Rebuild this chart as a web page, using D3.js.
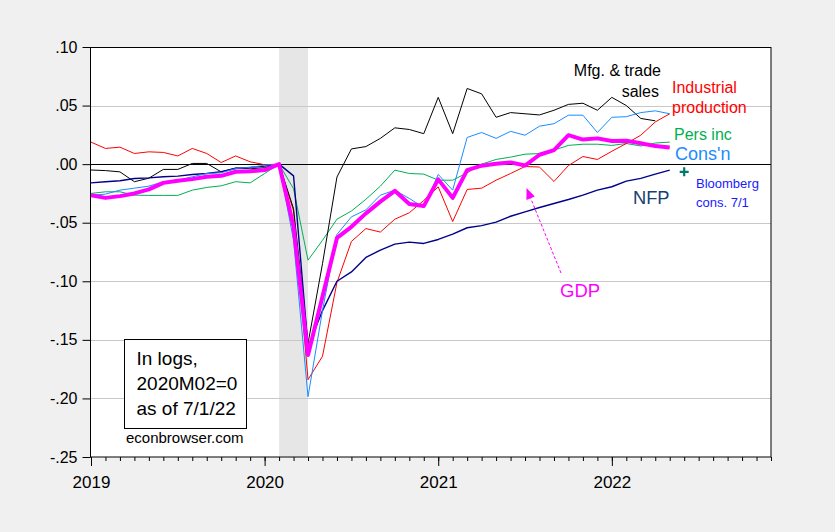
<!DOCTYPE html>
<html>
<head>
<meta charset="utf-8">
<script src="https://cdn.jsdelivr.net/npm/d3@7"></script>
<style>
	body { margin: 0; background: #f0f0f0; }
	#c-svg { width: 835px; height: 532px; }
	text { font-family: "Liberation Sans", Arial, sans-serif; }
</style>
</head>
<body>
<div id="c-svg"></div>
<script>
//months on the axis, 2019M01 ... 2022M12
let months = d3.timeMonth.range(new Date(2019, 0, 1), new Date(2023, 0, 1)).map(d3.timeFormat("%YM%m"));
let yearLabels = ["2019", "2020", "2021", "2022"];
let yTicks = [0.10, 0.05, 0.00, -0.05, -0.10, -0.15, -0.20, -0.25];
let recession = ["2020M02", "2020M04"];

//series, log deviation from 2020M02, starting 2019M01
let gdp = [-0.0265, -0.0288, -0.0273, -0.025, -0.0216, -0.016, -0.0142, -0.0128, -0.0108, -0.010, -0.0065, -0.006,
	-0.0051, 0, -0.0535, -0.163, -0.113, -0.063, -0.0535, -0.042, -0.032, -0.0228, -0.034, -0.0358,
	-0.013, -0.0288, -0.0051, -0.0013, 0.0003, 0.0015, -0.0012, 0.008, 0.012, 0.0247, 0.021, 0.022,
	0.0197, 0.0199, 0.0179, 0.0154, 0.0142];
let consn = [-0.0265, -0.0256, -0.0222, -0.0205, -0.0188, -0.015, -0.0137, -0.0108, -0.008, -0.0074, -0.0037, -0.0028,
	-0.0009, 0, -0.065, -0.1985, -0.125, -0.060, -0.045, -0.039, -0.0265, -0.0222, -0.0293, -0.037,
	-0.0088, -0.0222, 0.0228, 0.027, 0.022, 0.028, 0.0247, 0.0324, 0.0345, 0.0418, 0.0418, 0.027,
	0.040, 0.0405, 0.044, 0.0455, 0.043];
let persInc = [-0.025, -0.0236, -0.0236, -0.0265, -0.0267, -0.0267, -0.0267, -0.0222, -0.0199, -0.0185, -0.015, -0.016,
	-0.008, 0, -0.021, -0.082, -0.065, -0.047, -0.040, -0.030, -0.0188, -0.0051, -0.008, -0.0085,
	-0.0137, -0.0137, -0.0074, 0.0, 0.004, 0.006, 0.0085, 0.009, 0.012, 0.016, 0.017, 0.017,
	0.016, 0.0176, 0.0155, 0.018, 0.0188];
let indProd = [0.0188, 0.0134, 0.0145, 0.0091, 0.0105, 0.0100, 0.0070, 0.0134, 0.0091, 0.0014, 0.0070, 0.002,
	-0.0005, 0, -0.040, -0.184, -0.164, -0.101, -0.066, -0.055, -0.058, -0.047, -0.0415, -0.031,
	-0.0194, -0.049, -0.0216, -0.0205, -0.0137, -0.008, -0.002, -0.0025, -0.0148, -0.0012, 0.0065, 0.004,
	0.011, 0.0176, 0.0247, 0.036, 0.043];
let mfgSales = [-0.005, -0.0055, -0.0066, -0.015, -0.012, -0.0045, -0.0045, 0.0006, 0.0006, -0.0066, -0.0032, -0.004,
	-0.003, 0, -0.038, -0.153, -0.085, -0.011, 0.013, 0.015, 0.022, 0.031, 0.0296, 0.026,
	0.057, 0.026, 0.0646, 0.060, 0.040, 0.044, 0.043, 0.042, 0.046, 0.051, 0.052, 0.046,
	0.057, 0.050, 0.039, 0.037];
let nfp = [-0.016, -0.015, -0.0142, -0.0122, -0.0117, -0.0108, -0.0102, -0.0088, -0.008, -0.0065, -0.0037, -0.0028,
	-0.0017, 0, -0.010, -0.156, -0.125, -0.100, -0.092, -0.0796, -0.0734, -0.0683, -0.0666, -0.0677,
	-0.0643, -0.0597, -0.0543, -0.0525, -0.0495, -0.0445, -0.0407, -0.037, -0.0336, -0.0302, -0.0265, -0.0222,
	-0.0193, -0.0145, -0.0122, -0.0085, -0.0051];
//Bloomberg consensus for June NFP
let consMonth = ["2022M06"];
let consValue = [-0.0066];


function graph(){

	let width = 835;
	let height = 532;
	let margin = {top: 47, right: 64, bottom: 75, left: 91};

	let svg = d3.select("#c-svg")
		.append("svg")
		.attr("width", width)
		.attr("height", height);

	//scales
	const xScale = d3.scaleLinear()
		.domain([0, months.length - 1])
		.range([margin.left, width - margin.right]);

	const yScale = d3.scaleLinear()
		.domain([-0.25, 0.10])
		.range([height - margin.bottom, margin.top]);

	const mi = (m) => months.indexOf(m);

	//plot area
	svg.append("rect")
		.attr("x", margin.left - 0.5)
		.attr("y", margin.top)
		.attr("width", width - margin.right - margin.left + 0.5)
		.attr("height", height - margin.bottom - margin.top)
		.attr("fill", "#fff");

	//recession shading
	svg.append("rect")
		.attr("x", xScale(mi(recession[0])))
		.attr("y", margin.top + 0.5)
		.attr("width", xScale(mi(recession[1])) - xScale(mi(recession[0])))
		.attr("height", height - margin.bottom - margin.top - 1)
		.attr("fill", "#e6e6e6");

	//grid
	svg.append("g")
		.selectAll("line")
		.data(yTicks.filter((d)=>{ return d !== 0 && d > -0.25 && d < 0.10; }))
		.enter()
		.append("line")
		.attr("x1", margin.left)
		.attr("x2", width - margin.right)
		.attr("y1", (d)=>{ return Math.round(yScale(d)) + 0.5; })
		.attr("y2", (d)=>{ return Math.round(yScale(d)) + 0.5; })
		.attr("stroke", "#c8c8c8");

	svg.append("line")
		.attr("x1", margin.left)
		.attr("x2", width - margin.right)
		.attr("y1", Math.round(yScale(0)) + 0.5)
		.attr("y2", Math.round(yScale(0)) + 0.5)
		.attr("stroke", "#000");

	//lines
	let line = d3.line()
		.x((d, i)=>{ return xScale(i); })
		.y((d)=>{ return yScale(d); });

	let series = [
		{values: persInc, color: "#00b050", w: 1},
		{values: indProd, color: "#ff0000", w: 1},
		{values: mfgSales, color: "#000000", w: 1},
		{values: nfp, color: "#00008b", w: 1.4},
		{values: consn, color: "#1a8cff", w: 1},
		{values: gdp, color: "#ff00ff", w: 4}
	];

	svg.append("g")
		.selectAll("path")
		.data(series)
		.enter()
		.append("path")
		.attr("d", (d)=>{ return line(d.values); })
		.attr("fill", "none")
		.attr("stroke", (d)=>{ return d.color; })
		.attr("stroke-width", (d)=>{ return d.w; })
		.attr("stroke-linejoin", "round");

	//consensus marker
	let cx = xScale(mi(consMonth[0]));
	let cy = yScale(consValue[0]);
	svg.append("path")
		.attr("d", `M${cx-4.5},${cy}H${cx+4.5}M${cx},${cy-4.5}V${cy+4.5}`)
		.attr("stroke", "#007a6e")
		.attr("stroke-width", 2.2);

	//frame
	svg.append("rect")
		.attr("x", margin.left - 0.5)
		.attr("y", margin.top + 0.5)
		.attr("width", width - margin.right - margin.left + 0.5)
		.attr("height", height - margin.bottom - margin.top - 0.5)
		.attr("fill", "none")
		.attr("stroke", "#000");

	//axes, hyphen minus and no leading zero
	let fmt = (d)=>{ return d3.format(".2f")(d).replace("\u2212", "-").replace("0.", "."); };

	const yAxis = d3.axisLeft(yScale)
		.tickValues(yTicks)
		.tickSize(8)
		.tickPadding(5)
		.tickFormat(fmt);

	svg.append("g")
		.attr("class", "axis y_axis")
		.attr("transform", `translate(${margin.left - 0.5},0)`)
		.call(yAxis)
		.call((g)=>{ g.select(".domain").remove(); })
		.selectAll("text")
		.attr("font-size", 16)
		.attr("font-family", "Liberation Sans, Arial, sans-serif")
		.attr("fill", "#000");

	const xMinor = d3.axisBottom(xScale)
		.tickValues(d3.range(months.length))
		.tickSize(4)
		.tickFormat("");

	const xMajor = d3.axisBottom(xScale)
		.tickValues(yearLabels.map((y)=>{ return mi(y + "M01"); }))
		.tickSize(9)
		.tickPadding(10)
		.tickFormat((d)=>{ return months[d].slice(0, 4); });

	svg.append("g")
		.attr("transform", `translate(0,${height - margin.bottom})`)
		.call(xMinor)
		.call((g)=>{ g.select(".domain").remove(); });

	svg.append("g")
		.attr("class", "axis x_axis")
		.attr("transform", `translate(0,${height - margin.bottom})`)
		.call(xMajor)
		.call((g)=>{ g.select(".domain").remove(); })
		.selectAll("text")
		.attr("font-size", 17)
		.attr("font-family", "Liberation Sans, Arial, sans-serif")
		.attr("fill", "#000");

	svg.selectAll(".tick line").attr("stroke", "#000");

	//labels
	let labels = [
		{t: "Mfg. & trade", x: 661, y: 76, c: "#000", s: 16, a: "end"},
		{t: "sales", x: 659, y: 97, c: "#000", s: 16, a: "end"},
		{t: "Industrial", x: 672, y: 93, c: "#ff0000", s: 16, a: "start"},
		{t: "production", x: 672, y: 113, c: "#ff0000", s: 16, a: "start"},
		{t: "Pers inc", x: 674, y: 140, c: "#00b050", s: 16, a: "start"},
		{t: "Cons'n", x: 675, y: 160, c: "#1a8cff", s: 18, a: "start"},
		{t: "Bloomberg", x: 696, y: 188, c: "#1a1aff", s: 13, a: "start"},
		{t: "cons. 7/1", x: 696, y: 207, c: "#1a1aff", s: 13, a: "start"},
		{t: "NFP", x: 633, y: 204, c: "#173f73", s: 18.3, a: "start"},
		{t: "GDP", x: 560, y: 297, c: "#ff00ff", s: 18.5, a: "start"},
		{t: "econbrowser.com", x: 126, y: 443, c: "#000", s: 15, a: "start"}
	];

	svg.append("g")
		.selectAll("text")
		.data(labels)
		.enter()
		.append("text")
		.attr("x", (d)=>{ return d.x; })
		.attr("y", (d)=>{ return d.y; })
		.attr("fill", (d)=>{ return d.c; })
		.attr("font-size", (d)=>{ return d.s; })
		.attr("text-anchor", (d)=>{ return d.a; })
		.text((d)=>{ return d.t; });

	//arrow to GDP line
	let tip = [526.5, 188];
	let tail = [561, 273];
	let ang = Math.atan2(tail[1] - tip[1], tail[0] - tip[0]);
	let hl = 11, hw = 4.5;
	let bx = tip[0] + hl * Math.cos(ang), by = tip[1] + hl * Math.sin(ang);
	svg.append("line")
		.attr("x1", tail[0]).attr("y1", tail[1])
		.attr("x2", bx).attr("y2", by)
		.attr("stroke", "#ff00ff")
		.attr("stroke-width", 1)
		.attr("stroke-dasharray", "3,2");
	svg.append("path")
		.attr("d", `M${tip[0]},${tip[1]}L${bx - hw*Math.sin(ang)},${by + hw*Math.cos(ang)}L${bx + hw*Math.sin(ang)},${by - hw*Math.cos(ang)}Z`)
		.attr("fill", "#ff00ff");

	//note box
	svg.append("rect")
		.attr("x", 124.5)
		.attr("y", 339.5)
		.attr("width", 122)
		.attr("height", 89)
		.attr("fill", "#fff")
		.attr("stroke", "#000");

	svg.append("g")
		.selectAll("text")
		.data(["In logs,", "2020M02=0", "as of 7/1/22"])
		.enter()
		.append("text")
		.attr("x", 136.5)
		.attr("y", (d, i)=>{ return 365 + i * 25; })
		.attr("font-size", 19)
		.attr("fill", "#000")
		.text((d)=>{ return d; });

} //function graph

graph();
</script>
</body>
</html>
